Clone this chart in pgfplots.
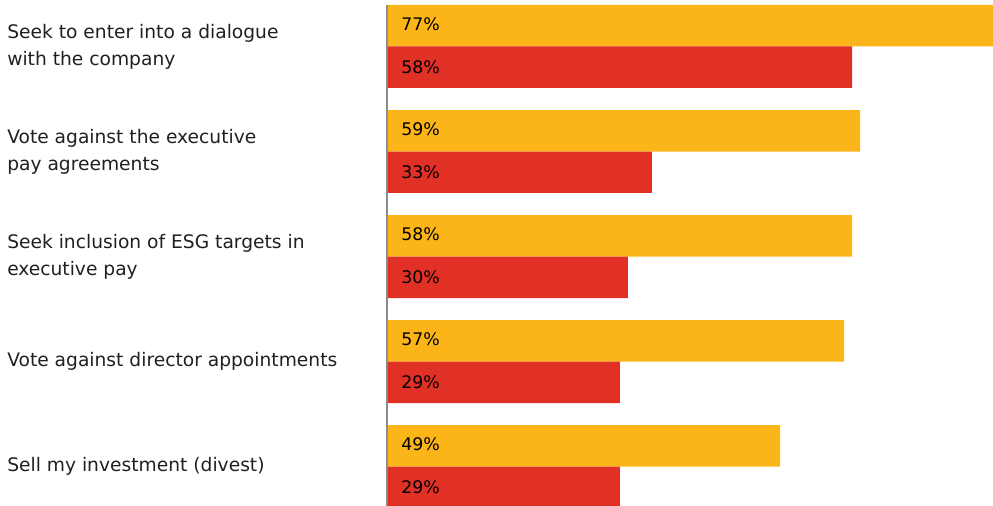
\documentclass[border=0pt]{standalone}
\usepackage{pgfplots}
\usepackage{pgfplotstable}
\pgfplotsset{compat=1.18}
\usepackage{fontspec}
\setmainfont{DejaVu Sans}
\definecolor{ylw}{RGB}{251,181,24}
\definecolor{rd}{RGB}{225,49,39}
\definecolor{txt}{RGB}{35,31,32}
\definecolor{axgray}{RGB}{140,140,140}

\pgfplotstableread{
y val
0 77
1 59
2 58
3 57
4 49
}\yellowdata
\pgfplotstableread{
y val
0 58
1 33
2 30
3 29
4 29
}\reddata

\begin{document}
\begin{tikzpicture}
\begin{axis}[
  scale only axis,
  width=454.65pt, height=375.75pt,
  xmin=-0.15, xmax=75.625,
  ymin=-0.3952, ymax=4.376,
  y dir=reverse,
  axis x line=none,
  axis y line*=left,
  y axis line style={draw=axgray, line width=1.5pt},
  xtick=\empty,
  ytick={0,1,2,3,4},
  yticklabels={{Seek to enter into a dialogue\\with the company},
               {Vote against the executive\\pay agreements},
               {Seek inclusion of ESG targets in\\executive pay},
               {Vote against director appointments},
               {Sell my investment (divest)}},
  major tick length=0pt,
  /pgf/number format/assume math mode=true,
  yticklabel style={anchor=west, align=left, inner sep=0pt, xshift=-284.85pt,
    font=\fontsize{14}{20.25}\selectfont, text=txt},
]
\addplot[xbar, bar width=0.3952, bar shift=-0.1976, fill=ylw, draw=none]
  table[x=val, y=y]{\yellowdata};
\addplot[xbar, bar width=0.3952, bar shift=0.1976, fill=rd, draw=none]
  table[x=val, y=y]{\reddata};
\addplot[draw=none, mark=none, point meta=explicit,
  nodes near coords={\pgfmathprintnumber{\pgfplotspointmeta}\%},
  nodes near coords align={anchor=west},
  every node near coord/.append style={anchor=west, inner sep=0pt, xshift=9.75pt, yshift=16.8pt,
    font=\fontsize{13}{16}\selectfont, text=black}]
  table[x expr=0, y=y, meta=val]{\yellowdata};
\addplot[draw=none, mark=none, point meta=explicit,
  nodes near coords={\pgfmathprintnumber{\pgfplotspointmeta}\%},
  nodes near coords align={anchor=west},
  every node near coord/.append style={anchor=west, inner sep=0pt, xshift=9.75pt, yshift=-15.3pt,
    font=\fontsize{13}{16}\selectfont, text=black}]
  table[x expr=0, y=y, meta=val]{\reddata};
\coordinate (bl) at (axis description cs:0,0);
\coordinate (tr) at (axis description cs:1,1);
\end{axis}
\pgfresetboundingbox
\path ([xshift=-290.1pt]bl) rectangle ([yshift=3.75pt]tr);
\end{tikzpicture}
\end{document}
